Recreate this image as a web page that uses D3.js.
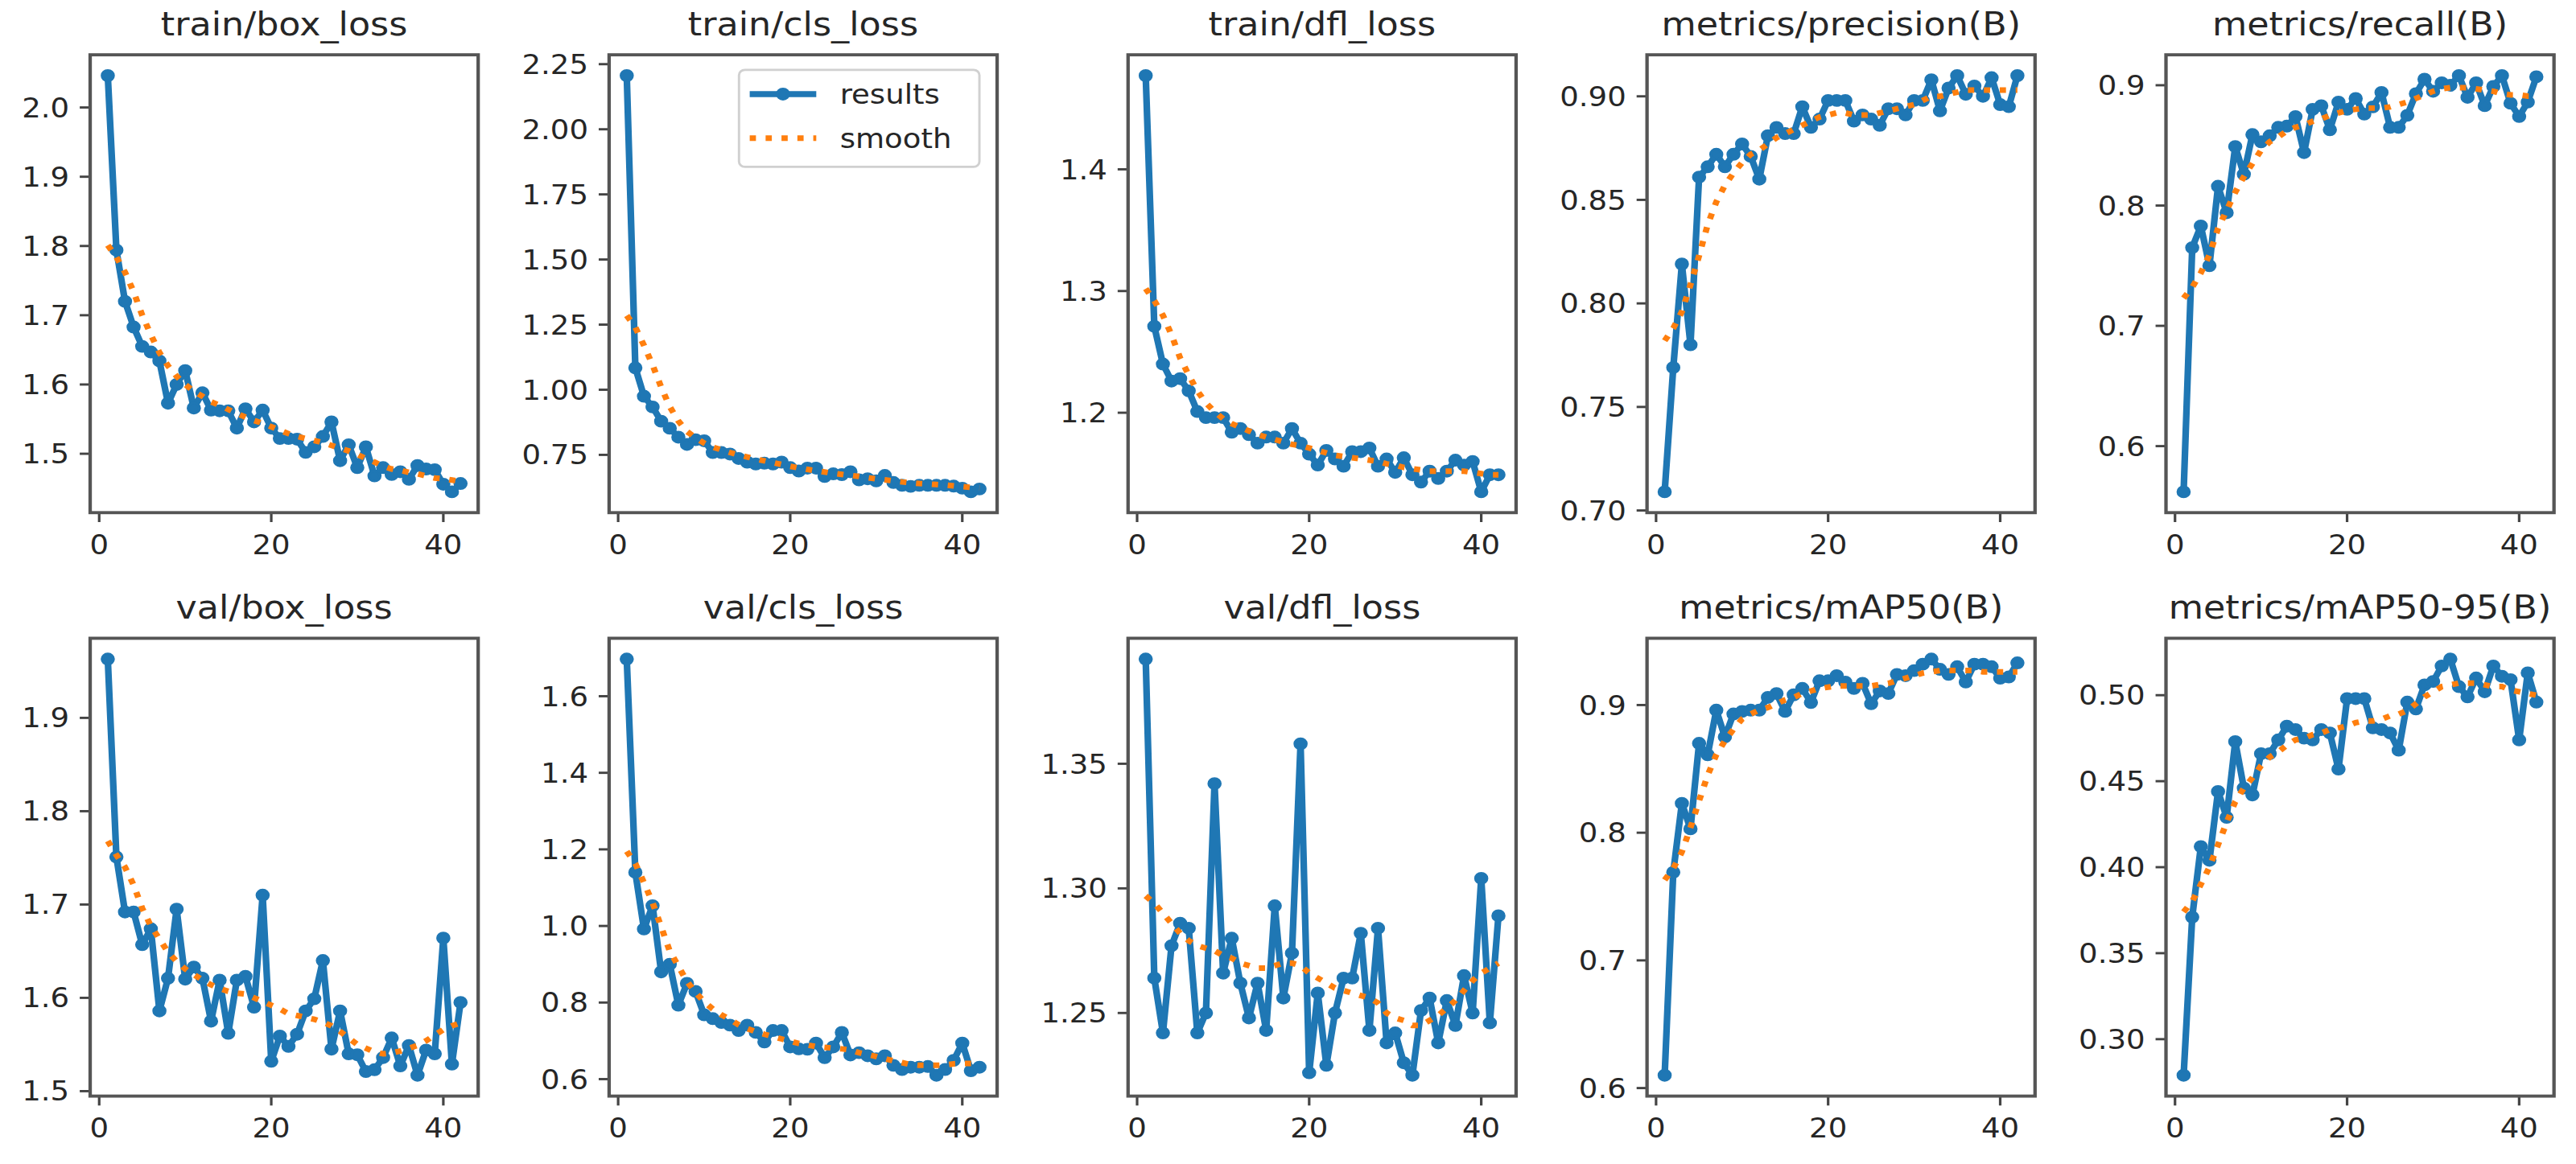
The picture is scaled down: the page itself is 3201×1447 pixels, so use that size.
<!DOCTYPE html>
<html>
<head>
<meta charset="utf-8">
<script src="https://cdn.jsdelivr.net/npm/d3@7"></script>
<style>
html, body { margin: 0; padding: 0; background: #fff; }
svg { display: block; }
</style>
</head>
<body>
<div id="chart"></div>
<script>
// epochs 1..42
const epochs = d3.range(1, 43);
const xTicks = ['0', '20', '40'];

const trainBox = [2.046,1.794,1.720,1.683,1.655,1.647,1.634,1.573,1.600,1.620,1.566,1.588,1.563,1.562,1.562,1.537,1.565,1.546,1.563,1.537,1.522,1.522,1.521,1.502,1.510,1.525,1.546,1.490,1.513,1.480,1.510,1.468,1.480,1.470,1.474,1.463,1.483,1.478,1.477,1.456,1.445,1.457];
const trainBoxSmooth = [1.801,1.784,1.762,1.734,1.700,1.672,1.646,1.627,1.612,1.600,1.590,1.583,1.575,1.570,1.564,1.558,1.553,1.548,1.544,1.539,1.534,1.529,1.525,1.522,1.519,1.516,1.512,1.508,1.504,1.499,1.493,1.488,1.482,1.478,1.476,1.473,1.471,1.468,1.465,1.464,1.462,1.460];

const trainCls = [2.206,1.084,0.975,0.934,0.879,0.852,0.818,0.790,0.808,0.804,0.759,0.759,0.753,0.736,0.722,0.715,0.718,0.715,0.722,0.701,0.688,0.699,0.699,0.667,0.677,0.674,0.685,0.654,0.658,0.650,0.671,0.644,0.633,0.629,0.633,0.633,0.633,0.633,0.630,0.622,0.608,0.619];
const trainClsSmooth = [1.285,1.240,1.170,1.095,1.010,0.935,0.880,0.840,0.815,0.795,0.780,0.769,0.759,0.750,0.742,0.734,0.727,0.720,0.713,0.706,0.700,0.694,0.689,0.684,0.679,0.675,0.671,0.667,0.662,0.658,0.654,0.650,0.646,0.643,0.640,0.638,0.636,0.634,0.631,0.628,0.625,0.623];

const trainDfl = [1.477,1.271,1.240,1.226,1.228,1.218,1.201,1.196,1.196,1.196,1.184,1.187,1.182,1.175,1.180,1.180,1.175,1.187,1.175,1.166,1.157,1.169,1.162,1.156,1.168,1.168,1.171,1.156,1.162,1.151,1.163,1.149,1.143,1.152,1.146,1.152,1.161,1.157,1.160,1.135,1.149,1.149];
const trainDflSmooth = [1.302,1.292,1.280,1.264,1.245,1.231,1.218,1.208,1.201,1.195,1.191,1.188,1.185,1.182,1.180,1.178,1.176,1.174,1.173,1.171,1.169,1.167,1.165,1.164,1.163,1.162,1.161,1.160,1.158,1.157,1.155,1.154,1.153,1.152,1.152,1.152,1.152,1.152,1.151,1.150,1.149,1.149];

const precision = [0.709,0.769,0.819,0.780,0.861,0.866,0.872,0.866,0.872,0.877,0.871,0.860,0.881,0.885,0.882,0.882,0.895,0.885,0.889,0.898,0.898,0.898,0.888,0.891,0.889,0.886,0.894,0.894,0.891,0.898,0.898,0.908,0.893,0.904,0.910,0.901,0.905,0.900,0.909,0.896,0.895,0.910];
const precisionSmooth = [0.782,0.788,0.796,0.809,0.823,0.838,0.849,0.857,0.863,0.868,0.872,0.874,0.877,0.880,0.882,0.884,0.886,0.888,0.890,0.891,0.892,0.892,0.891,0.891,0.891,0.892,0.893,0.894,0.895,0.896,0.898,0.900,0.900,0.901,0.902,0.903,0.903,0.903,0.903,0.903,0.903,0.903];

const recall = [0.562,0.765,0.783,0.750,0.816,0.794,0.849,0.826,0.859,0.853,0.858,0.865,0.866,0.874,0.844,0.880,0.883,0.863,0.886,0.880,0.889,0.876,0.882,0.894,0.865,0.865,0.875,0.893,0.905,0.895,0.902,0.900,0.908,0.890,0.902,0.883,0.899,0.908,0.885,0.874,0.886,0.907];
const recallSmooth = [0.723,0.732,0.744,0.759,0.781,0.796,0.811,0.824,0.835,0.846,0.853,0.857,0.862,0.865,0.867,0.870,0.872,0.875,0.877,0.879,0.880,0.881,0.881,0.881,0.882,0.884,0.886,0.889,0.892,0.895,0.897,0.898,0.898,0.898,0.897,0.896,0.895,0.893,0.892,0.892,0.891,0.891];

const valBox = [1.963,1.751,1.692,1.692,1.657,1.674,1.586,1.621,1.695,1.620,1.633,1.621,1.575,1.619,1.562,1.619,1.623,1.590,1.710,1.532,1.559,1.548,1.561,1.586,1.599,1.640,1.545,1.586,1.540,1.539,1.521,1.523,1.536,1.557,1.527,1.549,1.517,1.544,1.540,1.664,1.529,1.595];
const valBoxSmooth = [1.768,1.753,1.740,1.721,1.696,1.677,1.663,1.649,1.639,1.631,1.625,1.619,1.614,1.610,1.607,1.605,1.604,1.600,1.596,1.592,1.588,1.583,1.581,1.579,1.577,1.574,1.570,1.564,1.557,1.550,1.546,1.542,1.540,1.541,1.543,1.546,1.549,1.554,1.560,1.566,1.570,1.573];

const valCls = [1.697,1.140,0.992,1.053,0.880,0.900,0.793,0.850,0.829,0.768,0.758,0.748,0.741,0.727,0.741,0.722,0.697,0.727,0.727,0.684,0.679,0.678,0.694,0.656,0.684,0.722,0.663,0.669,0.661,0.653,0.661,0.636,0.625,0.631,0.631,0.633,0.610,0.625,0.649,0.694,0.622,0.631];
const valClsSmooth = [1.195,1.163,1.113,1.061,0.998,0.934,0.895,0.855,0.826,0.802,0.783,0.768,0.756,0.742,0.732,0.724,0.717,0.711,0.705,0.699,0.693,0.689,0.685,0.683,0.681,0.679,0.676,0.669,0.664,0.659,0.653,0.648,0.643,0.638,0.636,0.636,0.636,0.637,0.640,0.641,0.641,0.641];

const valDfl = [1.392,1.264,1.242,1.277,1.286,1.284,1.242,1.250,1.342,1.266,1.280,1.262,1.248,1.262,1.243,1.293,1.256,1.274,1.358,1.226,1.258,1.229,1.250,1.264,1.264,1.282,1.243,1.284,1.238,1.242,1.230,1.225,1.251,1.256,1.238,1.255,1.245,1.265,1.250,1.304,1.246,1.289];
const valDflSmooth = [1.297,1.294,1.290,1.286,1.282,1.279,1.277,1.276,1.275,1.273,1.272,1.270,1.269,1.268,1.268,1.269,1.270,1.270,1.269,1.266,1.264,1.262,1.260,1.259,1.258,1.257,1.256,1.254,1.250,1.248,1.247,1.245,1.245,1.247,1.249,1.252,1.255,1.259,1.263,1.266,1.268,1.270];

const mAP50 = [0.610,0.769,0.823,0.803,0.870,0.861,0.896,0.875,0.893,0.895,0.896,0.896,0.906,0.909,0.895,0.908,0.913,0.902,0.919,0.919,0.923,0.918,0.913,0.917,0.901,0.911,0.909,0.924,0.923,0.927,0.932,0.936,0.928,0.924,0.930,0.918,0.932,0.932,0.930,0.921,0.922,0.933];
const mAP50Smooth = [0.763,0.772,0.785,0.804,0.825,0.845,0.861,0.872,0.881,0.889,0.893,0.896,0.898,0.901,0.904,0.906,0.909,0.911,0.913,0.914,0.915,0.915,0.915,0.915,0.915,0.916,0.917,0.919,0.921,0.923,0.925,0.926,0.927,0.927,0.927,0.927,0.927,0.926,0.926,0.926,0.926,0.926];

const mAP5095 = [0.279,0.371,0.412,0.404,0.444,0.429,0.473,0.446,0.442,0.466,0.466,0.474,0.482,0.480,0.475,0.474,0.480,0.478,0.457,0.498,0.498,0.498,0.481,0.480,0.478,0.468,0.496,0.492,0.506,0.508,0.517,0.521,0.505,0.499,0.510,0.502,0.517,0.511,0.509,0.474,0.513,0.496];
const mAP5095Smooth = [0.374,0.380,0.390,0.400,0.413,0.426,0.438,0.446,0.452,0.459,0.464,0.467,0.471,0.474,0.475,0.477,0.478,0.480,0.481,0.482,0.484,0.485,0.485,0.486,0.488,0.489,0.491,0.495,0.499,0.502,0.505,0.506,0.507,0.507,0.507,0.506,0.505,0.505,0.503,0.502,0.501,0.500];

const panels = [
    {title: 'train/box_loss', y: trainBox, s: trainBoxSmooth, ticks: ['1.5','1.6','1.7','1.8','1.9','2.0']},
    {title: 'train/cls_loss', y: trainCls, s: trainClsSmooth, ticks: ['0.75','1.00','1.25','1.50','1.75','2.00','2.25']},
    {title: 'train/dfl_loss', y: trainDfl, s: trainDflSmooth, ticks: ['1.2','1.3','1.4']},
    {title: 'metrics/precision(B)', y: precision, s: precisionSmooth, ticks: ['0.70','0.75','0.80','0.85','0.90']},
    {title: 'metrics/recall(B)', y: recall, s: recallSmooth, ticks: ['0.6','0.7','0.8','0.9']},
    {title: 'val/box_loss', y: valBox, s: valBoxSmooth, ticks: ['1.5','1.6','1.7','1.8','1.9']},
    {title: 'val/cls_loss', y: valCls, s: valClsSmooth, ticks: ['0.6','0.8','1.0','1.2','1.4','1.6']},
    {title: 'val/dfl_loss', y: valDfl, s: valDflSmooth, ticks: ['1.25','1.30','1.35']},
    {title: 'metrics/mAP50(B)', y: mAP50, s: mAP50Smooth, ticks: ['0.6','0.7','0.8','0.9']},
    {title: 'metrics/mAP50-95(B)', y: mAP5095, s: mAP5095Smooth, ticks: ['0.30','0.35','0.40','0.45','0.50']}
];

// figure drawn in a 2400x1200 space, stretched to the 3201x1447 page
const svg = d3.select('#chart').append('svg')
    .attr('width', 3201)
    .attr('height', 1447)
    .attr('viewBox', '0 0 2400 1200')
    .attr('preserveAspectRatio', 'none');

svg.append('rect').attr('width', 2400).attr('height', 1200).attr('fill', 'white');

const blue = '#1f77b4', orange = '#ff7f0e', ink = '#262626';
const font = 'DejaVu Sans';
const pw = 361.5, ph = 472;
const colX = [84, 567.5, 1051, 1534.5, 2018];
const rowY = [56.5, 658];
const lw = 6.2, tickLen = 9.7, mr = 5.2;

panels.forEach((p, i) => {
    const g = svg.append('g')
        .attr('transform', `translate(${colX[i % 5]},${rowY[Math.floor(i / 5)]})`);

    const xe = d3.extent(epochs), xm = (xe[1] - xe[0]) * 0.05;
    const x = d3.scaleLinear().domain([xe[0] - xm, xe[1] + xm]).range([0, pw]);
    const ye = d3.extent(p.y.concat(p.s)), ym = (ye[1] - ye[0]) * 0.05;
    const y = d3.scaleLinear().domain([ye[0] - ym, ye[1] + ym]).range([ph, 0]);

    svg.append('clipPath').attr('id', `clip${i}`)
        .append('rect').attr('width', pw).attr('height', ph);

    const plot = g.append('g').attr('clip-path', `url(#clip${i})`);
    const line = d3.line().x((d, k) => x(epochs[k])).y(d => y(d));

    plot.append('path')
        .attr('d', line(p.y))
        .attr('fill', 'none')
        .attr('stroke', blue)
        .attr('stroke-width', lw)
        .attr('stroke-linejoin', 'round');

    plot.selectAll('circle').data(p.y).join('circle')
        .attr('cx', (d, k) => x(epochs[k]))
        .attr('cy', d => y(d))
        .attr('r', mr)
        .attr('fill', blue)
        .attr('stroke', blue)
        .attr('stroke-width', 2.8);

    plot.append('path')
        .attr('d', line(p.s))
        .attr('fill', 'none')
        .attr('stroke', orange)
        .attr('stroke-width', 5.8)
        .attr('stroke-dasharray', '5.8,9.0');

    // y ticks
    p.ticks.forEach(t => {
        g.append('line')
            .attr('x1', -tickLen).attr('x2', 0)
            .attr('y1', y(+t)).attr('y2', y(+t))
            .attr('stroke', '#444').attr('stroke-width', 2.4);
        g.append('text')
            .attr('x', -19.4).attr('y', y(+t))
            .attr('dy', '0.36em')
            .attr('text-anchor', 'end')
            .attr('font-family', font).attr('font-size', 27.8)
            .attr('fill', ink)
            .text(t);
    });

    // x ticks
    xTicks.forEach(t => {
        g.append('line')
            .attr('x1', x(+t)).attr('x2', x(+t))
            .attr('y1', ph).attr('y2', ph + tickLen)
            .attr('stroke', '#444').attr('stroke-width', 2.4);
        g.append('text')
            .attr('x', x(+t)).attr('y', ph + 43)
            .attr('text-anchor', 'middle')
            .attr('font-family', font).attr('font-size', 27.8)
            .attr('fill', ink)
            .text(t);
    });

    g.append('rect')
        .attr('width', pw).attr('height', ph)
        .attr('fill', 'none')
        .attr('stroke', '#555')
        .attr('stroke-width', 3.2);

    g.append('text')
        .attr('x', pw / 2).attr('y', -20)
        .attr('text-anchor', 'middle')
        .attr('font-family', font).attr('font-size', 33.3)
        .attr('fill', ink)
        .text(p.title);

    if (i === 1) {
        const lg = g.append('g').attr('transform', 'translate(121,15.5)');
        lg.append('rect')
            .attr('width', 224).attr('height', 100).attr('rx', 5.5)
            .attr('fill', 'white').attr('fill-opacity', 0.8)
            .attr('stroke', '#d0d0d0').attr('stroke-width', 2.2);
        lg.append('line')
            .attr('x1', 10).attr('x2', 72).attr('y1', 25).attr('y2', 25)
            .attr('stroke', blue).attr('stroke-width', lw);
        lg.append('circle')
            .attr('cx', 41).attr('cy', 25).attr('r', mr)
            .attr('fill', blue).attr('stroke', blue).attr('stroke-width', 2.8);
        lg.append('line')
            .attr('x1', 10).attr('x2', 72).attr('y1', 70.5).attr('y2', 70.5)
            .attr('stroke', orange).attr('stroke-width', 5.8)
            .attr('stroke-dasharray', '5.8,9.0');
        lg.append('text')
            .attr('x', 94).attr('y', 25).attr('dy', '0.36em')
            .attr('font-family', font).attr('font-size', 27.8).attr('fill', ink)
            .text('results');
        lg.append('text')
            .attr('x', 94).attr('y', 70.5).attr('dy', '0.36em')
            .attr('font-family', font).attr('font-size', 27.8).attr('fill', ink)
            .text('smooth');
    }
});
</script>
</body>
</html>
